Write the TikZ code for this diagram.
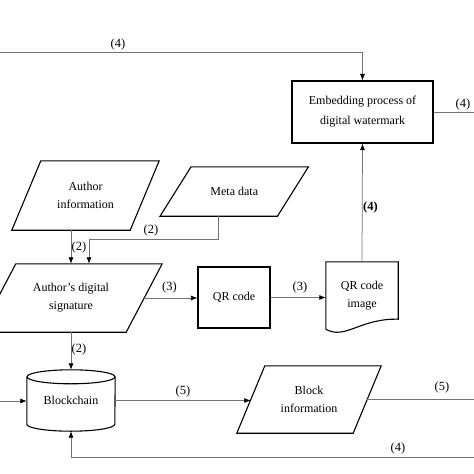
\documentclass[tikz,border=0pt]{standalone}
\usepackage{fontspec}
\setmainfont{Liberation Serif}
\usetikzlibrary{arrows.meta,calc}
\newcommand\parashape[2]{%
  \draw[shp] ($(#1.north west)+(#2,0)$) -- ($(#1.north east)+(#2,0)$) --
    ($(#1.south east)+(-#2,0)$) -- ($(#1.south west)+(-#2,0)$) -- cycle;}
\begin{document}
\begin{tikzpicture}[x=1pt,y=-1pt,
  shp/.style={draw=black,line width=1.1pt},
  txt/.style={rectangle,inner sep=0pt,align=center,font=\fontsize{12}{18}\selectfont},
  box/.style={txt,shp},
  conn/.style={draw=black!55,line width=0.75pt},
  arr/.style={conn,-{Latex[length=6.5pt,width=5pt,color=black]}},
  lab/.style={inner sep=0pt,font=\fontsize{12.5}{13}\selectfont}]
\useasboundingbox (0,0) rectangle (474,474);

% shapes
\node[box,minimum width=141pt,minimum height=62pt] (emb) at (362.5,112) {Embedding process of\\[2pt]digital watermark};
\node[txt,minimum width=118pt,minimum height=69pt] (ai) at (85.5,195.5) {Author\\information};
\parashape{ai}{14.5}
\node[txt,minimum width=117pt,minimum height=49pt] (md) at (234.25,191.5) {Meta data};
\parashape{md}{15.5}
\node[txt,minimum width=146pt,minimum height=68pt] (sig) at (71,298) {Author's digital\\signature};
\parashape{sig}{18}
\node[box,minimum width=72pt,minimum height=61pt] (qr) at (234,297.5) {QR code};
\node[txt,minimum width=72pt,minimum height=67pt] (qri) at (362,295.5) {QR code\\image};
\draw[shp] (qri.south west) -- (qri.north west) -- (qri.north east) -- ($(qri.south east)+(0,-10)$)
  .. controls ($(qri.south east)+(-38,-11)$) and ($(qri.south west)+(19,11)$) .. (qri.south west);
\node[txt,minimum width=88pt,minimum height=61pt] (bc) at (71,400.5) {\raisebox{-4pt}{Blockchain}};
\draw[shp] ($(bc.north west)+(0,7)$) -- ($(bc.south west)+(0,-7)$)
  arc[start angle=180,end angle=360,x radius=44pt,y radius=7pt] -- ($(bc.north east)+(0,7)$);
\draw[shp] ($(bc.north)+(0,7)$) ellipse[x radius=44pt,y radius=7pt];
\node[txt,minimum width=116pt,minimum height=67pt] (bi) at (309,399.5) {Block\\information};
\parashape{bi}{14}

% connectors
\coordinate (tl) at (0,52);
\draw[arr] (tl) -| (emb.north);
\node[lab] (l1) at (118,44) {(4)};
\coordinate (er) at (474,112);
\draw[conn] (emb.east) -- (er);
\node[lab] (l2) at (463,104) {(4)};
\draw[arr] (qri.north) -- (emb.south);
\node[lab] (l3) at (370.5,207) {\textbf{(4)}};
\draw[arr] (ai.south -| sig.north) -- (sig.north);
\coordinate (sig2) at ($(sig.north)+(18,0)$);
\coordinate (mdb) at ($(md.south)+(-15.5,0)$);
\draw[arr] (mdb) |- ([yshift=24pt]sig2) -- (sig2);
\node[lab] (l4) at (79,247) {(2)};
\node[lab] (l5) at (151,230) {(2)};
\draw[arr] (sig.east) -- (sig.east -| qr.west);
\node[lab] (l6) at (169.5,287) {(3)};
\draw[arr] (qr.east) -- (qr.east -| qri.west);
\node[lab] (l7) at (300,287) {(3)};
\draw[arr] (sig.south) -- (bc.north);
\node[lab] (l8) at (79,349) {(2)};
\coordinate (bl) at (0,401);
\draw[arr] (bl) -- (bl -| bc.west);
\draw[arr] (bc.east) -- (bc.east -| bi.west);
\node[lab] (l9) at (183,391) {(5)};
\coordinate (br) at (474,399.5);
\draw[conn] (bi.east) -- (br);
\node[lab] (l10) at (442,387) {(5)};
\coordinate (bb) at (474,457);
\draw[arr] (bb) -| (bc.south);
\node[lab] (l11) at (398,448) {(4)};
\end{tikzpicture}
\end{document}
